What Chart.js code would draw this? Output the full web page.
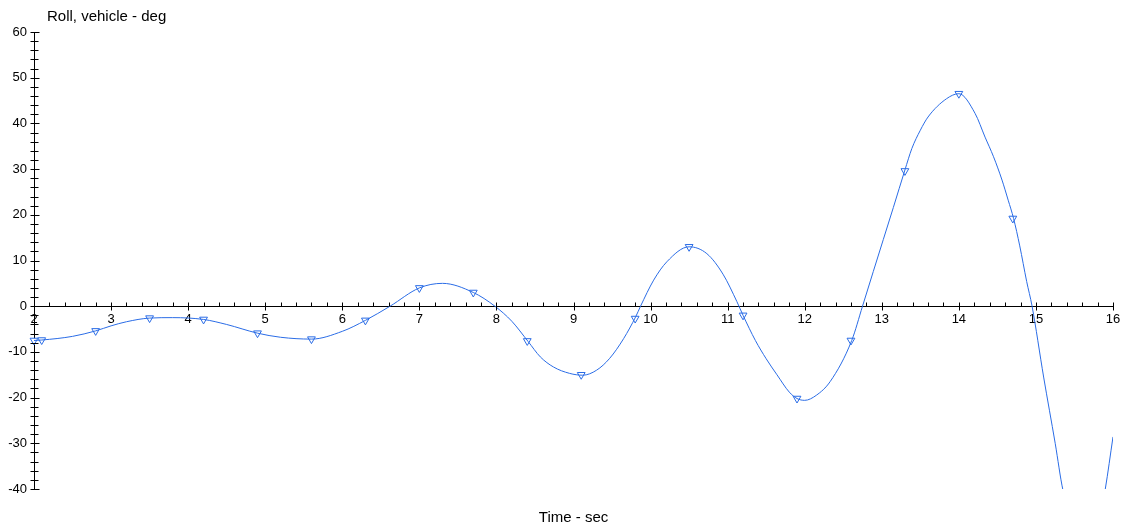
<!DOCTYPE html>
<html>
<head>
<meta charset="utf-8">
<script src="https://cdn.jsdelivr.net/npm/chart.js@4"></script>
<style>
  html, body { margin: 0; padding: 0; background: #fff; }
  canvas { display: block; }
</style>
</head>
<body>
<canvas id="roll" width="1137" height="529"></canvas>
<script>
// Roll angle trace (time in s, roll in deg)
const lineTime = [2.0, 2.1, 2.5, 2.8, 3.0, 3.2, 3.5, 3.8, 4.2, 4.5,
    4.9, 5.2, 5.6, 6.0, 6.3, 6.62, 7.0, 7.3, 7.7, 7.98,
    8.2, 8.41, 8.57, 8.74, 8.95, 9.12, 9.3, 9.47, 9.65, 9.81,
    9.87, 10.04, 10.21, 10.5, 10.73, 10.94, 11.12, 11.2, 11.36, 11.5,
    11.64, 11.8, 11.9, 12.0, 12.15, 12.33, 12.61, 12.75, 12.89, 13.02,
    13.15, 13.3, 13.39, 13.5, 13.6, 13.84, 14.0, 14.21, 14.34, 14.45,
    14.56, 14.64, 14.71, 14.79, 14.88, 14.95, 15.1, 15.25, 15.35, 15.5,
    15.65, 15.8, 15.9, 16.0];
const lineRoll = [-7.5, -7.4, -6.6, -5.4, -4.3, -3.4, -2.6, -2.5, -2.9, -4.0,
    -5.9, -6.8, -7.2, -5.5, -3.1, 0, 4.0, 5.0, 3.0, 0,
    -3.3, -7.7, -11.1, -13.3, -14.7, -15.1, -14.0, -11.4, -7.1, -2.2,
    0, 5.7, 9.7, 13.0, 11.5, 7.0, 1.0, -2.0, -7.5, -11.5,
    -15.0, -18.8, -20.2, -20.6, -19.5, -16.5, -7.5, 0, 7.6, 14.6,
    21.6, 29.8, 34.5, 38.5, 41.4, 45.4, 46.5, 42.2, 37.0, 32.7,
    27.6, 23.2, 19.2, 13.2, 5.4, 0, -15.5, -30, -40.2, -48,
    -52, -49, -40, -28.6];

// Sample markers along the trace
const markerTime = [2.0, 2.1, 2.8, 3.5, 4.2, 4.9, 5.6, 6.3, 7.0, 7.7, 8.4, 9.1, 9.8, 10.5, 11.2,
    11.9, 12.6, 13.3, 14.0, 14.7];
const markerRoll = [-7.5, -7.4, -5.4, -2.6, -2.9, -5.9, -7.2, -3.1, 4.0, 3.0, -7.6, -15.0, -2.7, 13.0, -2.0,
    -20.2, -7.5, 29.6, 46.5, 19.2];

const xMin = 2, xMax = 16, xStep = 0.2;
const yMin = -40, yMax = 60, yStep = 2;

const blue = '#2a6ce6';
const font = { family: '"Liberation Sans", Arial, sans-serif', size: 13 };

const isWhole = (v, every) => Math.abs(v / every - Math.round(v / every)) < 1e-6;

// Ticks that cross the axes and the two axis captions
const axisDecor = {
    id: 'axisDecor',
    afterDraw(chart) {
        const { ctx, chartArea } = chart;
        const x = chart.scales.x, y = chart.scales.y;
        ctx.save();
        ctx.strokeStyle = '#000';
        ctx.lineWidth = 1;

        const y0 = Math.round(y.getPixelForValue(0)) + 0.5;
        x.ticks.forEach(t => {
            const px = Math.round(x.getPixelForValue(t.value)) + 0.5;
            const major = isWhole(t.value, 1);
            ctx.beginPath();
            ctx.moveTo(px, y0 - 4);
            ctx.lineTo(px, major ? y0 + 4 : y0);
            ctx.stroke();
        });

        const x0 = Math.round(chartArea.left) + 0.5;
        y.ticks.forEach(t => {
            const py = Math.round(y.getPixelForValue(t.value)) + 0.5;
            const major = isWhole(t.value, 10);
            ctx.beginPath();
            ctx.moveTo(x0 - 4, py);
            ctx.lineTo(x0 + (major ? 5 : 4), py);
            ctx.stroke();
        });

        ctx.fillStyle = '#000';
        ctx.font = '15px "Liberation Sans", Arial, sans-serif';
        ctx.textBaseline = 'alphabetic';
        ctx.textAlign = 'left';
        ctx.fillText('Roll, vehicle - deg', chartArea.left + 13, chartArea.top - 11);
        ctx.textAlign = 'center';
        ctx.fillText('Time - sec', (chartArea.left + chartArea.right) / 2, chart.height - 7);
        ctx.restore();
    }
};

new Chart(document.getElementById('roll'), {
    type: 'line',
    data: {
        datasets: [{
            data: lineTime.map((t, i) => ({ x: t, y: lineRoll[i] })),
            borderColor: blue,
            borderWidth: 1,
            pointRadius: 0,
            cubicInterpolationMode: 'monotone',
            fill: false
        }, {
            data: markerTime.map((t, i) => ({ x: t, y: markerRoll[i] })),
            showLine: false,
            pointStyle: 'triangle',
            rotation: 180,
            pointRadius: 4.5,
            pointBorderWidth: 1,
            pointBorderColor: blue,
            pointBackgroundColor: '#fff',
            clip: false
        }]
    },
    options: {
        responsive: false,
        animation: false,
        layout: { padding: { left: 0, top: 32, right: 24, bottom: 40 } },
        plugins: {
            legend: { display: false },
            tooltip: { enabled: false }
        },
        scales: {
            x: {
                type: 'linear',
                position: { y: 0 },
                min: xMin,
                max: xMax,
                grid: { display: true, drawOnChartArea: false, drawTicks: true, tickLength: 4, color: 'rgba(0,0,0,0)' },
                border: { display: true, color: '#000', width: 1 },
                ticks: {
                    stepSize: xStep,
                    autoSkip: false,
                    maxRotation: 0,
                    padding: 1,
                    color: '#000',
                    font,
                    callback: v => isWhole(v, 1) ? Math.round(v) : ''
                }
            },
            y: {
                type: 'linear',
                min: yMin,
                max: yMax,
                afterFit: s => { s.width = 34; },
                grid: { display: true, drawOnChartArea: false, drawTicks: true, tickLength: 4, color: 'rgba(0,0,0,0)' },
                border: { display: true, color: '#000', width: 1 },
                ticks: {
                    stepSize: yStep,
                    autoSkip: false,
                    padding: 3,
                    color: '#000',
                    font,
                    callback: v => isWhole(v, 10) ? v : ''
                }
            }
        }
    },
    plugins: [axisDecor]
});
</script>
</body>
</html>
